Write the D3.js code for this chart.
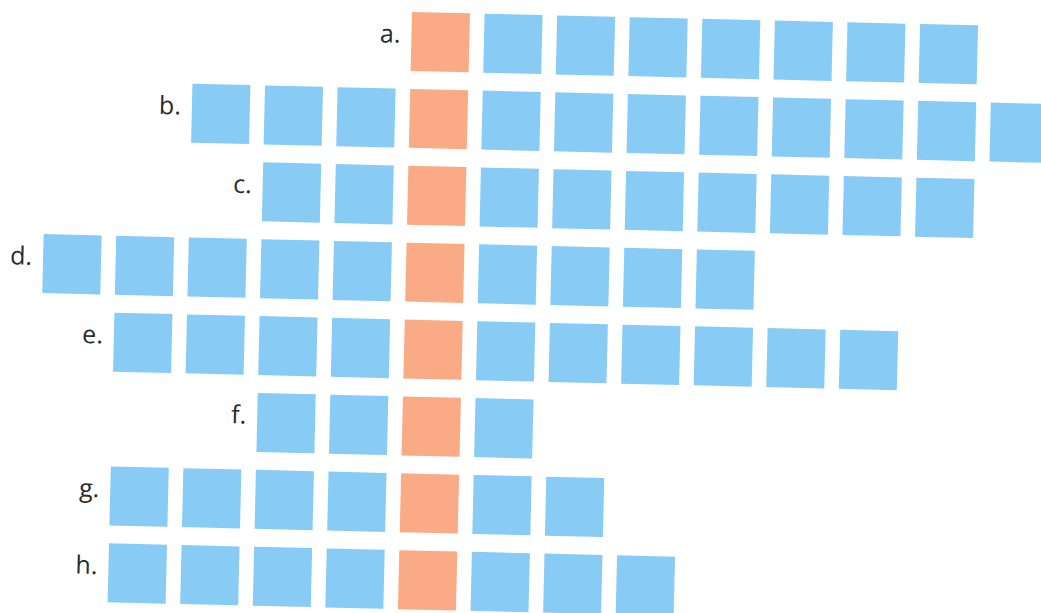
<!DOCTYPE html>
<html><head><meta charset="utf-8">
<script src="https://cdn.jsdelivr.net/npm/d3@7"></script>
<style>html,body{margin:0;padding:0;background:#fff;}svg{display:block;}</style>
</head><body>
<svg id="chart" width="1041" height="613"></svg>
<script>
const rowLabels = ['a.','b.','c.','d.','e.','f.','g.','h.'];
const leftCounts = [0,3,2,5,4,2,4,4];
const rightCounts = [7,8,7,4,6,1,2,3];

const svg = d3.select('#chart');
const W = 1041, H = 613;
const pitchX = 72.6, pitchY = 76.9, sqW = 58, sqH = 59;
const originX = 412, originY = 12, angle = 1.35;

const x = d3.scaleLinear().domain([0,1]).range([originX, originX + pitchX]);
const y = d3.scaleBand().domain(rowLabels).range([originY, originY + pitchY*rowLabels.length]).paddingInner(0);

const cells = [];
rowLabels.forEach((r,i)=>{
  for(let j=-leftCounts[i]; j<=rightCounts[i]; j++){
    cells.push({row:r, col:j, kind: j===0 ? 'pivot' : 'item'});
  }
});
const color = d3.scaleOrdinal().domain(['pivot','item']).range(['#fbaa86','#88cbf5']);

const g = svg.append('g').attr('transform', `rotate(${angle},${originX},${originY})`);
g.selectAll('rect').data(cells).join('rect')
  .attr('x', d=>x(d.col)).attr('y', d=>y(d.row))
  .attr('width', sqW).attr('height', sqH)
  .attr('fill', d=>color(d.kind));

g.selectAll('text').data(rowLabels).join('text')
  .attr('x', (d,i)=>x(-leftCounts[i]) - 11)
  .attr('y', d=>y(d) + 31)
  .attr('text-anchor','end')
  .attr('font-family','"Open Sans", sans-serif')
  .attr('font-size', 25)
  .attr('fill','#2a2a2a')
  .text(d=>d);
</script>
</body></html>
